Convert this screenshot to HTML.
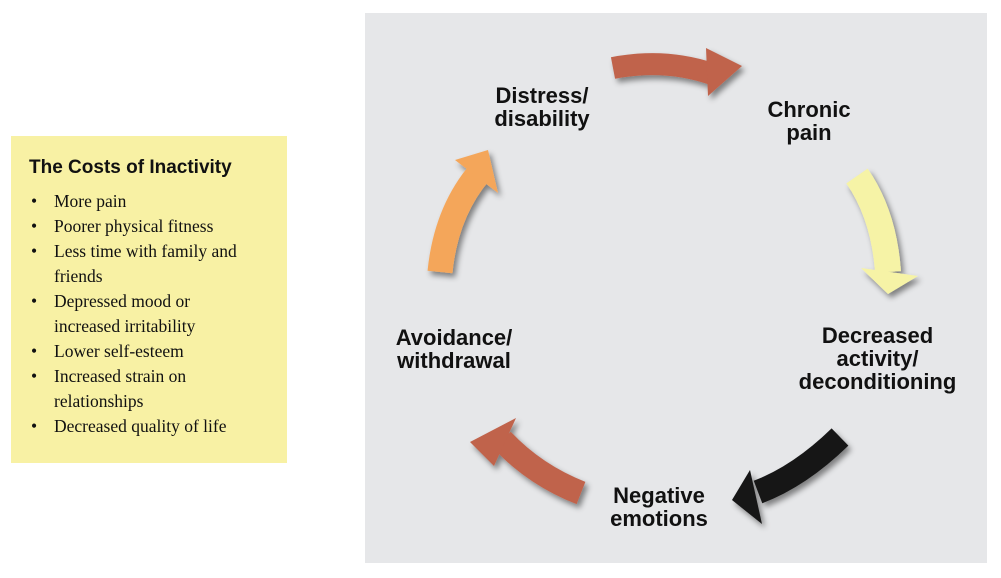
<!DOCTYPE html>
<html><head><style>
body{margin:0;width:1001px;height:578px;background:#fff;position:relative;overflow:hidden;font-family:"Liberation Sans",Arial,sans-serif}
#box{position:absolute;left:11px;top:136px;width:276px;height:327px;background:#f8f1a4}
#box h3{margin:0;position:absolute;left:18px;top:21px;font-size:19px;font-weight:bold;color:#111}
#box ul{position:absolute;left:0;top:53px;margin:0;padding:0;list-style:none;font-family:"Liberation Serif",serif;font-size:17.5px;line-height:25px;color:#111}
#box li{padding-left:43px;position:relative;width:205px}
#box li:before{content:"•";position:absolute;left:20px}
#panel{position:absolute;left:365px;top:13px;width:622px;height:550px;background:#e6e7e9}
.l{position:absolute;font-weight:bold;font-size:22px;line-height:23px;color:#111;text-align:center;white-space:nowrap}
</style></head><body>
<div id="box"><h3>The Costs of Inactivity</h3>
<ul><li>More pain</li><li>Poorer physical fitness</li><li>Less time with family and friends</li><li>Depressed mood or increased irritability</li><li>Lower self-esteem</li><li>Increased strain on relationships</li><li>Decreased quality of life</li></ul></div>
<div id="panel"></div>
<svg style="position:absolute;left:0;top:0" width="1001" height="578">
<defs><filter id="s" x="-30%" y="-30%" width="160%" height="160%"><feDropShadow dx="3" dy="4" stdDeviation="3" flood-color="#000" flood-opacity="0.45"/></filter></defs>
<g filter="url(#s)">
<path d="M613,68 Q665,58 712,74" stroke="#c0634c" stroke-width="22" fill="none"/>
<polygon points="706,48 742,66 708,96" fill="#c0634c"/>
<path d="M857,176 Q884,215 888,272" stroke="#f6f3a6" stroke-width="26" fill="none"/>
<polygon points="861,268 918,276 888,294" fill="#f6f3a6"/>
<path d="M840,437 Q800,476 758,492" stroke="#151515" stroke-width="24" fill="none"/>
<polygon points="750,470 732,500 762,524" fill="#151515"/>
<path d="M581,493 Q535,475 502,440" stroke="#c0634c" stroke-width="24" fill="none"/>
<polygon points="516,418 470,442 494,466" fill="#c0634c"/>
<path d="M440,272 Q446,212 480,172" stroke="#f4a65a" stroke-width="25" fill="none"/>
<polygon points="455,160 488,150 498,193" fill="#f4a65a"/>
</g></svg>
<div class="l" style="left:472px;top:84px;width:140px">Distress/<br>disability</div>
<div class="l" style="left:745px;top:98px;width:128px">Chronic<br>pain</div>
<div class="l" style="left:780px;top:324px;width:195px">Decreased<br>activity/<br>deconditioning</div>
<div class="l" style="left:594px;top:484px;width:130px">Negative<br>emotions</div>
<div class="l" style="left:383px;top:326px;width:142px">Avoidance/<br>withdrawal</div>
</body></html>
